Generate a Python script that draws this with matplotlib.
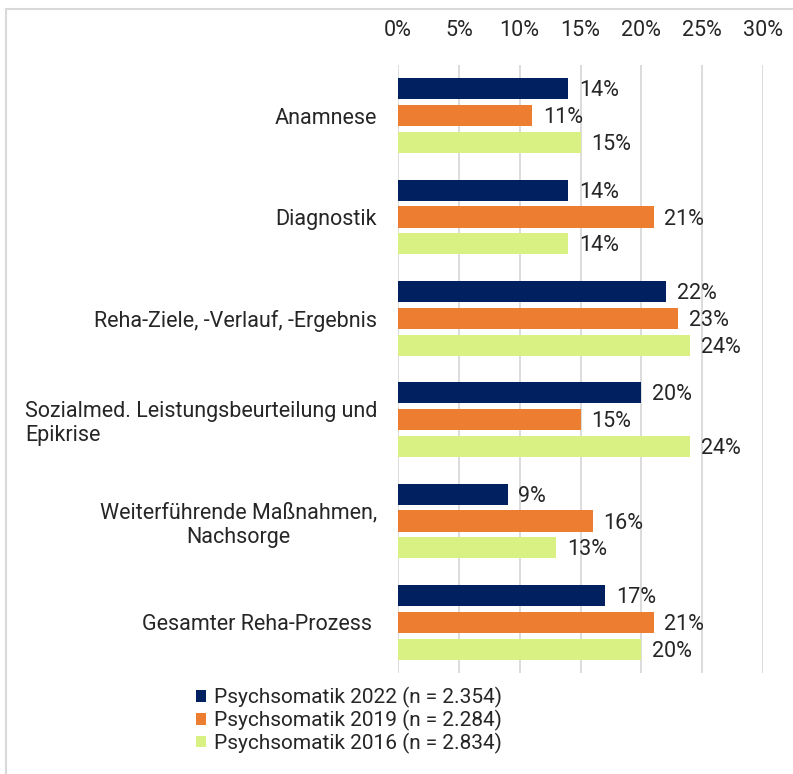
import matplotlib
matplotlib.use('Agg')
import matplotlib.pyplot as plt
from matplotlib.lines import Line2D
import numpy as np

plt.rcParams['font.family'] = ['Roboto', 'DejaVu Sans']

categories = ['Anamnese', 'Diagnostik', 'Reha-Ziele, -Verlauf, -Ergebnis',
              'Sozialmed. Leistungsbeurteilung und\nEpikrise',
              'Weiterführende Maßnahmen,\nNachsorge', 'Gesamter Reha-Prozess ']
aligns = ['center', 'center', 'center', 'left', 'center', 'center']
v2022 = [14, 14, 22, 20, 9, 17]
v2019 = [11, 21, 23, 15, 16, 21]
v2016 = [15, 14, 24, 24, 13, 20]
series = [('Psychsomatik 2022 (n = 2.354)', v2022, '#002060'),
          ('Psychsomatik 2019 (n = 2.284)', v2019, '#ED7D31'),
          ('Psychsomatik 2016 (n = 2.834)', v2016, '#D9F082')]
xticks = [0, 5, 10, 15, 20, 25, 30]

fs = 15.5
fig = plt.figure(figsize=(7.93, 7.74), dpi=100)
ax = fig.add_axes([398/793, 1-673/774, (763-398)/793, (673-65)/774])

y = np.arange(len(categories))
off = 0.265
h = 0.21
for i, (name, vals, col) in enumerate(series):
    pos = y + (i - 1) * off
    ax.barh(pos, vals, height=h, color=col, label=name, zorder=3)
    for p, v in zip(pos, vals):
        ax.text(v + 0.9, p + 0.02, f'{v}%', va='center', ha='left', fontsize=fs, color='#262626', zorder=4)

ax.set_ylim(len(categories) - 0.5, -0.5)
ax.set_xlim(0, 30)
ax.set_xticks(xticks)
ax.set_xticklabels([f'{t}%' for t in xticks])
ax.xaxis.tick_top()
ax.tick_params(axis='x', length=0, pad=17, labelsize=fs, colors='#262626')
ax.tick_params(axis='y', length=0, pad=15, labelsize=fs, colors='#262626')
ax.set_yticks(y)
ax.set_yticklabels(categories)
for lab, a in zip(ax.get_yticklabels(), aligns):
    lab.set_multialignment(a)
ax.grid(axis='x', color='#D9D9D9', linewidth=1.3, zorder=0)
for s in ax.spines.values():
    s.set_visible(False)

ax.legend(loc='upper left', bbox_to_anchor=(196/793, 1-687/774), bbox_transform=fig.transFigure,
          frameon=False, fontsize=15, handlelength=0.5, handleheight=0.5, handletextpad=0.35,
          labelspacing=0.08, borderpad=0, borderaxespad=0, labelcolor='#262626')

fig.add_artist(Line2D([6/793, 6/793], [0, 1-9/774], color='#D9D9D9', linewidth=1.5, transform=fig.transFigure))
fig.add_artist(Line2D([6/793, 1], [1-9/774, 1-9/774], color='#D9D9D9', linewidth=1.5, transform=fig.transFigure))

fig.savefig('out.png', dpi=100)
